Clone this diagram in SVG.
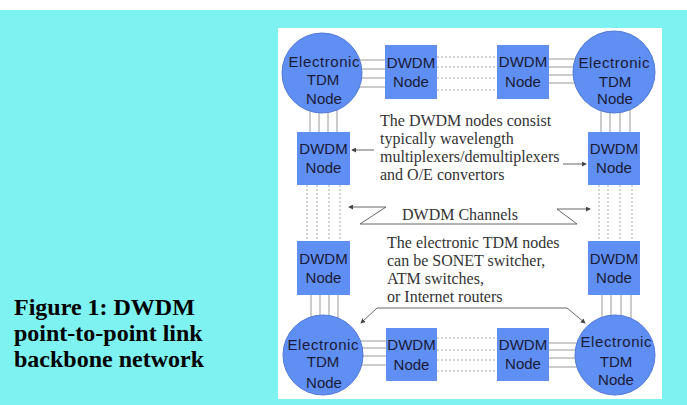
<svg xmlns="http://www.w3.org/2000/svg" width="687" height="405" viewBox="0 0 687 405">
<defs>
<style>
.node{fill:#5f8ff2;}
.circ{fill:#5f8ff2;stroke:#5078d8;stroke-width:1;}
.nt{font-family:"Liberation Sans",Arial,sans-serif;font-size:15px;fill:#1a1a38;text-anchor:middle;}
.body{font-family:"Liberation Serif","Times New Roman",serif;font-size:16px;fill:#333;}
.cap{font-family:"Liberation Serif","Times New Roman",serif;font-size:24px;font-weight:bold;fill:#000;}
.solid{stroke:#9a9a9a;stroke-width:1;fill:none;}
.dot{stroke:#aaaaaa;stroke-width:1;stroke-dasharray:2,2;fill:none;}
.lead{stroke:#666;stroke-width:1;fill:none;}
</style>
<marker id="ah" viewBox="0 0 6 6" refX="5" refY="3" markerWidth="5" markerHeight="5" orient="auto-start-reverse" markerUnits="userSpaceOnUse">
<path d="M0,0 L6,3 L0,6 Z" fill="#444"/>
</marker>
</defs>
<rect x="0" y="0" width="687" height="405" fill="#ffffff"/>
<rect x="0" y="10" width="687" height="395" fill="#7ef2f0"/>
<rect x="278" y="28" width="384" height="371" fill="#ffffff"/>

<g id="caption">
<text class="cap" x="14" y="315">Figure 1: DWDM</text>
<text class="cap" x="14" y="341">point-to-point link</text>
<text class="cap" x="14" y="367">backbone network</text>
</g>

<g id="connectors">
<!-- top row -->
<path class="solid" d="M345,60H385M345,69H385M345,78H385M345,87H385"/>
<path class="dot" d="M437,57H497M437,67H497M437,78H497M437,90H497"/>
<path class="solid" d="M549,59H590M549,67H590M549,75H590M549,83H590"/>
<!-- bottom row -->
<path class="solid" d="M345,341H386M345,348H386M345,356H386M345,365H386"/>
<path class="dot" d="M437,338H497M437,350H497M437,360H497M437,371H497"/>
<path class="solid" d="M549,343H592M549,350H592M549,358H592M549,367H592"/>
<!-- left column -->
<path class="solid" d="M310,95V132M319,95V132M328,95V132M337,95V132"/>
<path class="dot" d="M307,185V241M317,185V241M329,185V241M340,185V241"/>
<path class="solid" d="M311,295V330M320,295V330M329,295V330M338,295V330"/>
<!-- right column -->
<path class="solid" d="M601,95V132M610,95V132M620,95V132M630,95V132"/>
<path class="dot" d="M599,185V241M608,185V241M620,185V241M632,185V241"/>
<path class="solid" d="M602,295V330M611,295V330M621,295V330M631,295V330"/>
<!-- annotation leaders -->
<path class="lead" d="M374,150H352" marker-end="url(#ah)"/>
<path class="lead" d="M563,164H586" marker-end="url(#ah)"/>
<path class="lead" d="M349,207L386,207L360,224L577,224L557,209L590,209" marker-start="url(#ah)" marker-end="url(#ah)"/>
<path class="lead" d="M361,323L377,308L567,308L585,323" marker-start="url(#ah)" marker-end="url(#ah)"/>
</g>

<g id="tdm-top-left">
<circle class="circ" cx="322" cy="73" r="40"/>
<text class="nt" x="324" y="67" textLength="71" lengthAdjust="spacing">Electronic</text>
<text class="nt" x="323" y="85">TDM</text>
<text class="nt" x="324" y="104">Node</text>
</g>
<g id="tdm-top-right">
<circle class="circ" cx="614" cy="72" r="41"/>
<text class="nt" x="614" y="68" textLength="71" lengthAdjust="spacing">Electronic</text>
<text class="nt" x="615" y="87">TDM</text>
<text class="nt" x="615" y="104">Node</text>
</g>
<g id="tdm-bottom-left">
<circle class="circ" cx="323" cy="355" r="40"/>
<text class="nt" x="323" y="350" textLength="71" lengthAdjust="spacing">Electronic</text>
<text class="nt" x="323" y="367">TDM</text>
<text class="nt" x="324" y="388">Node</text>
</g>
<g id="tdm-bottom-right">
<circle class="circ" cx="615" cy="355" r="40"/>
<text class="nt" x="616" y="347" textLength="71" lengthAdjust="spacing">Electronic</text>
<text class="nt" x="616" y="367">TDM</text>
<text class="nt" x="616" y="385">Node</text>
</g>

<g id="dwdm-top-1">
<rect class="node" x="385" y="45" width="52" height="54"/>
<text class="nt" x="411" y="68">DWDM</text>
<text class="nt" x="411" y="87">Node</text>
</g>
<g id="dwdm-top-2">
<rect class="node" x="497" y="45" width="52" height="54"/>
<text class="nt" x="523" y="67">DWDM</text>
<text class="nt" x="523" y="87">Node</text>
</g>
<g id="dwdm-bottom-1">
<rect class="node" x="386" y="328" width="51" height="53"/>
<text class="nt" x="411.5" y="350">DWDM</text>
<text class="nt" x="411.5" y="370">Node</text>
</g>
<g id="dwdm-bottom-2">
<rect class="node" x="497" y="328" width="52" height="53"/>
<text class="nt" x="523" y="350">DWDM</text>
<text class="nt" x="523" y="369">Node</text>
</g>
<g id="dwdm-left-1">
<rect class="node" x="297" y="132" width="53" height="53"/>
<text class="nt" x="323.5" y="154">DWDM</text>
<text class="nt" x="323.5" y="173">Node</text>
</g>
<g id="dwdm-left-2">
<rect class="node" x="297" y="241" width="53" height="54"/>
<text class="nt" x="323.5" y="264">DWDM</text>
<text class="nt" x="323.5" y="283">Node</text>
</g>
<g id="dwdm-right-1">
<rect class="node" x="588" y="132" width="52" height="53"/>
<text class="nt" x="614" y="154">DWDM</text>
<text class="nt" x="614" y="173">Node</text>
</g>
<g id="dwdm-right-2">
<rect class="node" x="588" y="241" width="52" height="54"/>
<text class="nt" x="614" y="264">DWDM</text>
<text class="nt" x="614" y="283">Node</text>
</g>

<g id="note-dwdm">
<text class="body" x="380" y="126">The DWDM nodes consist</text>
<text class="body" x="380" y="144">typically wavelength</text>
<text class="body" x="380" y="162">multiplexers/demultiplexers</text>
<text class="body" x="380" y="180">and O/E convertors</text>
</g>
<g id="label-channels">
<text class="body" x="402" y="220">DWDM Channels</text>
</g>
<g id="note-tdm">
<text class="body" x="387" y="248">The electronic TDM nodes</text>
<text class="body" x="387" y="266">can be SONET switcher,</text>
<text class="body" x="387" y="284">ATM switches,</text>
<text class="body" x="387" y="302">or Internet routers</text>
</g>
</svg>
